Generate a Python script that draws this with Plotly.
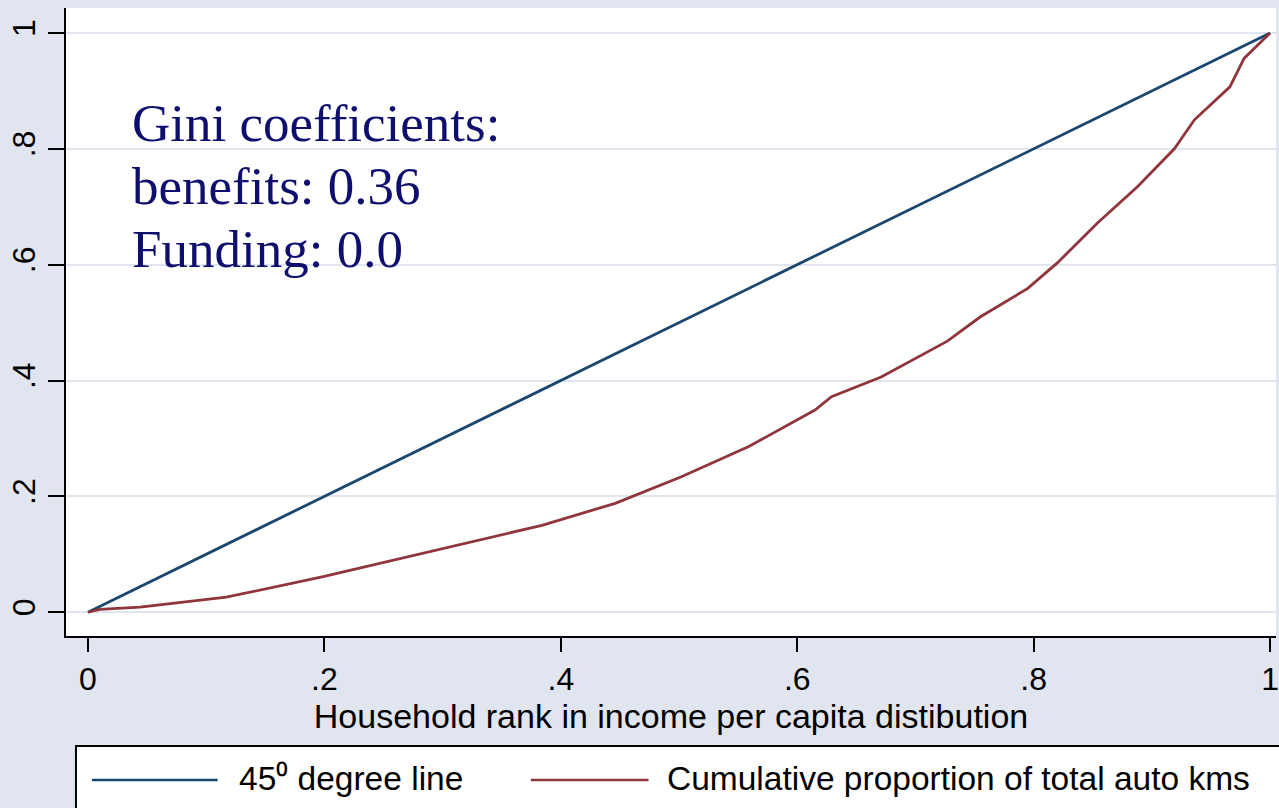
import plotly.graph_objects as go

# Household rank (x) and cumulative share of auto kilometres (y)
rank = [0.0, 0.01, 0.044, 0.117, 0.198, 0.258, 0.314, 0.384, 0.446, 0.502,
        0.559, 0.615, 0.629, 0.671, 0.727, 0.755, 0.795, 0.82, 0.854, 0.888,
        0.919, 0.936, 0.966, 0.978, 1.0]
cum_kms = [0.0, 0.005, 0.009, 0.026, 0.061, 0.09, 0.116, 0.150, 0.188, 0.234,
           0.286, 0.349, 0.372, 0.406, 0.468, 0.510, 0.559, 0.603, 0.672, 0.735,
           0.80, 0.85, 0.907, 0.956, 1.0]

# Line of equality
equality_x = [0.0, 1.0]
equality_y = [0.0, 1.0]

tick_vals = [0, 0.2, 0.4, 0.6, 0.8, 1]
tick_text = ["0", ".2", ".4", ".6", ".8", "1"]

series_names = ["45⁰ degree line", "Cumulative proportion of total auto kms"]
gini_lines = ["Gini coefficients:", "benefits: 0.36", "Funding: 0.0"]

NAVY = "#1A476F"
MAROON = "#90353B"
BG = "#E0E5F0"
GRID = "#E0E5EF"

W, H = 1279, 808
L, R, T, B = 66, 0, 8, 172
PW, PH = W - L - R, H - T - B


def px(x):
    return (x - L) / PW


def py(y):
    return (H - B - y) / PH


fig = go.Figure()
fig.add_trace(go.Scatter(x=equality_x, y=equality_y, mode="lines",
                         line=dict(color=NAVY, width=2.8), name=series_names[0]))
fig.add_trace(go.Scatter(x=rank, y=cum_kms, mode="lines",
                         line=dict(color=MAROON, width=2.8), name=series_names[1]))

axis_font = dict(family="Liberation Sans, Arial, sans-serif", size=32, color="black")

fig.update_layout(
    width=W, height=H,
    margin=dict(l=L, r=R, t=T, b=B, pad=0),
    paper_bgcolor=BG, plot_bgcolor="white",
    showlegend=False,
    xaxis=dict(range=[-0.0186, 1.005], tickvals=tick_vals, ticktext=tick_text,
               ticks="outside", ticklen=14, tickwidth=2, tickcolor="black",
               showgrid=False, zeroline=False, showline=True, linecolor="black",
               linewidth=2, tickfont=axis_font, ticklabeloverflow="allow",
               title=dict(text="Household rank in income per capita distibution",
                          font=dict(family="Liberation Sans, Arial, sans-serif",
                                    size=34, color="black"),
                          standoff=4)),
    yaxis=dict(range=[-0.041, 1.043], tickvals=tick_vals, ticktext=tick_text,
               ticks="outside", ticklen=16, tickwidth=2, tickcolor="black",
               tickangle=-90, showgrid=True, gridcolor=GRID, gridwidth=2,
               zeroline=False, showline=True, linecolor="black", linewidth=2,
               tickfont=axis_font, ticklabeloverflow="allow"),
)

# Gini annotation block
for i, line in enumerate(gini_lines):
    fig.add_annotation(x=px(130), y=py(123 + 63 * i), xref="paper", yref="paper",
                       xanchor="left", yanchor="middle", showarrow=False,
                       text=line,
                       font=dict(family="Liberation Serif, Times New Roman, serif",
                                 size=53, color="#0E0E6E"))

# Legend box along the bottom
fig.add_shape(type="rect", xref="paper", yref="paper",
              x0=px(76), x1=px(1290), y0=py(746), y1=py(830),
              fillcolor="white", line=dict(color="black", width=2), layer="above")
legend_items = [(92, 218, 237, NAVY), (532, 650, 666, MAROON)]
for (x0, x1, xt, col), name in zip(legend_items, series_names):
    fig.add_shape(type="line", xref="paper", yref="paper",
                  x0=px(x0), x1=px(x1), y0=py(780), y1=py(780),
                  line=dict(color=col, width=2.4), layer="above")
    fig.add_annotation(x=px(xt), y=py(778), xref="paper", yref="paper",
                       xanchor="left", yanchor="middle", showarrow=False,
                       text=name,
                       font=dict(family="Liberation Sans, Arial, sans-serif",
                                 size=33.5, color="black"))

fig.write_html("out.html")
